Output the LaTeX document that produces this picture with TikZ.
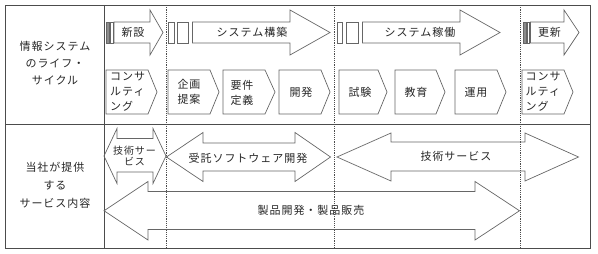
\documentclass[tikz,border=0pt]{standalone}
\usepackage{fontspec}
\setmainfont{Noto Sans CJK JP}
\newfontfamily\jpf[LetterSpace=9]{Noto Sans CJK JP}
\begin{document}
\begin{tikzpicture}[x=1pt,y=-1pt,
  frame/.style={draw=black!70,line width=0.8pt},
  sep/.style={draw=black!70,line width=0.6pt,dash pattern=on 1.2pt off 1pt},
  shp/.style={draw=black!60,line width=0.7pt,line join=miter},
  bar/.style={draw=black!60,line width=0.6pt},
  txt/.style={font=\jpf\fontsize{11}{14}\selectfont,text=black!85,inner sep=0pt,align=center},
  stxt/.style={font=\jpf\fontsize{10}{11}\selectfont,text=black!85,inner sep=0pt,align=center},
  ltxt/.style={font=\jpf\fontsize{11}{15}\selectfont,text=black!85,inner sep=0pt,align=left,anchor=west}]
\useasboundingbox (0,0) rectangle (598,254);
% table
\draw[frame] (5,5) rectangle (590,248);
\draw[frame] (5,124) -- (590,124);
\draw[frame] (104,5) -- (104,248);
\coordinate (d1t) at (166,5); \coordinate (d1b) at (166,248);
\coordinate (d2t) at (334,5); \coordinate (d2b) at (334,248);
\coordinate (d3t) at (520,5); \coordinate (d3b) at (520,248);
\draw[sep] (d1t) -- (d1b);
\draw[sep] (d2t) -- (d2b);
\draw[sep] (d3t) -- (d3b);
% left labels
\node[txt,font=\jpf\fontsize{11}{17}\selectfont] (lc) at (55,63) {情報システム\\のライフ・\\サイクル};
\node[txt,font=\jpf\fontsize{11}{18}\selectfont] (sv) at (55,185) {当社が提供\\する\\サービス内容};
% top arrows
% 新設
\draw[bar,fill=black!45] (106,22) rectangle (109,43);
\draw[bar] (110,22) rectangle (113,43);
\draw[shp] (114,22) -- (150,22) -- (150,10) -- (163,32.5) -- (150,55) -- (150,43) -- (114,43) -- cycle;
\node[txt] (a1) at (133,32.5) {新設};
% システム構築
\draw[bar] (168,22) rectangle (174,43);
\draw[bar] (177.5,22) rectangle (188,43);
\draw[shp] (192.5,22) -- (290,22) -- (290,10) -- (330,32.5) -- (290,55) -- (290,43) -- (192.5,43) -- cycle;
\node[txt] (a2) at (252,32.5) {システム構築};
% システム稼働
\draw[bar] (337.5,22) rectangle (342.5,43);
\draw[bar] (346.5,22) rectangle (358.5,43);
\draw[shp] (362.5,22) -- (460,22) -- (460,10) -- (500,32.5) -- (460,55) -- (460,43) -- (362.5,43) -- cycle;
\node[txt] (a3) at (420,32.5) {システム稼働};
% 更新
\draw[bar,fill=black!45] (523.5,22) rectangle (526,43);
\draw[bar] (527,22) rectangle (529.5,43);
\draw[shp] (530.5,22) -- (564,22) -- (564,10) -- (579,32.5) -- (564,55) -- (564,43) -- (530.5,43) -- cycle;
\node[txt] (a4) at (549.5,32.5) {更新};
% chevrons
\draw[shp] (106,70) -- (148,70) -- (157,92) -- (148,114) -- (106,114) -- cycle;
\node[ltxt] (c1) at (110,91.5) {コンサ\\ルティ\\ング};
\draw[shp] (168,70) -- (210,70) -- (219,92) -- (210,114) -- (168,114) -- cycle;
\node[txt,font=\jpf\fontsize{11}{15}\selectfont] (c2) at (189,92) {企画\\提案};
\draw[shp] (223,70) -- (265,70) -- (275,92) -- (265,114) -- (223,114) -- cycle;
\node[txt,font=\jpf\fontsize{11}{15}\selectfont] (c3) at (242,93) {要件\\定義};
\draw[shp] (279,70) -- (321,70) -- (330,92) -- (321,114) -- (279,114) -- cycle;
\node[txt] (c4) at (301,92) {開発};
\draw[shp] (339,70) -- (378,70) -- (387,92) -- (378,114) -- (339,114) -- cycle;
\node[txt] (c5) at (360,92) {試験};
\draw[shp] (395,70) -- (436,70) -- (445,92) -- (436,114) -- (395,114) -- cycle;
\node[txt] (c6) at (416,92) {教育};
\draw[shp] (455,70) -- (497,70) -- (506,92) -- (497,114) -- (455,114) -- cycle;
\node[txt] (c7) at (476,92) {運用};
\draw[shp] (522,70) -- (564,70) -- (573,92) -- (564,114) -- (522,114) -- cycle;
\node[ltxt] (c8) at (525.5,91.5) {コンサ\\ルティ\\ング};
% bottom double arrows
\draw[shp] (104,156) -- (117,128.5) -- (117,138.5) -- (153,138.5) -- (153,128.5) -- (166,156) -- (153,183.5) -- (153,172) -- (117,172) -- (117,183.5) -- cycle;
\node[stxt] (b1) at (134.5,156) {技術サー\\ビス};
\draw[shp] (166.5,157) -- (203,132.5) -- (203,143) -- (295,143) -- (295,132.5) -- (330.5,157) -- (295,181.5) -- (295,171) -- (203,171) -- (203,181.5) -- cycle;
\node[txt] (b2) at (248,158) {受託ソフトウェア開発};
\draw[shp] (337,157) -- (391,133) -- (391,142) -- (525,142) -- (525,133) -- (578.5,157) -- (525,181) -- (525,171) -- (391,171) -- (391,181) -- cycle;
\node[txt] (b3) at (456,156.5) {技術サービス};
\draw[shp] (104,210.75) -- (148,181.5) -- (148,191.5) -- (475,191.5) -- (475,181.5) -- (519.5,210.75) -- (475,240) -- (475,229.5) -- (148,229.5) -- (148,240) -- cycle;
\node[txt] (b4) at (311,210.5) {製品開発・製品販売};
\end{tikzpicture}
\end{document}
